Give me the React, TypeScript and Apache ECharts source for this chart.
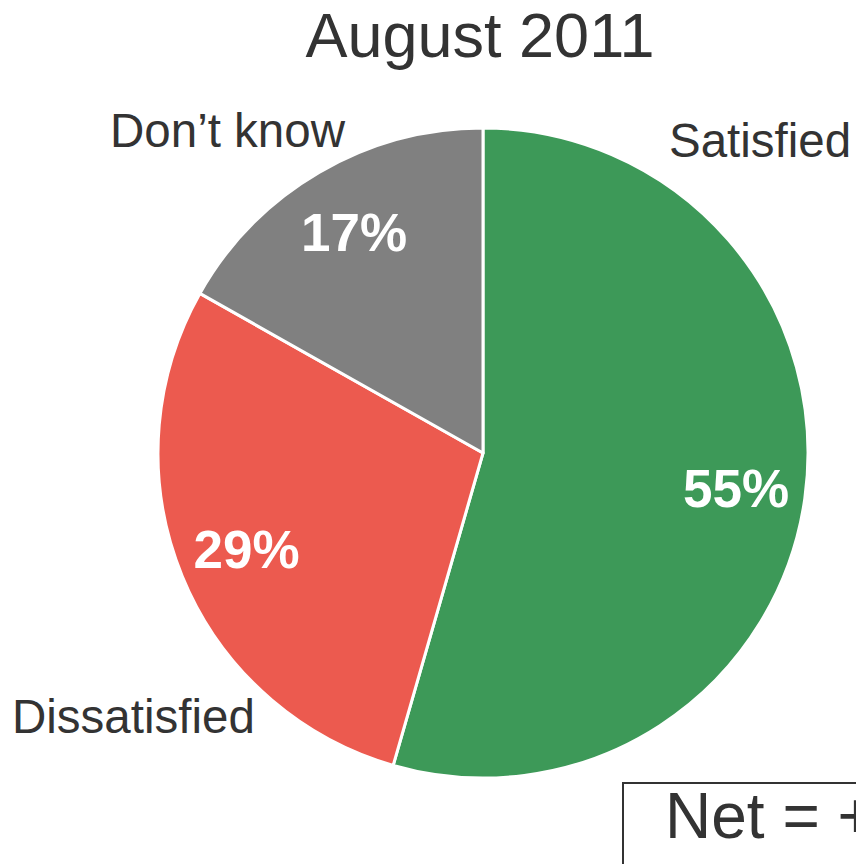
import React, { useEffect, useRef } from "react";
import * as echarts from "echarts";

const categories = ["Satisfied", "Dissatisfied", "Don’t know"];
const values = [55, 29, 17];
const colors = ["#3D9958", "#EC5A4F", "#808080"];
const titleText = "August 2011";
const netText = "Net = +26";

const FONT = "'Liberation Sans', Arial, Helvetica, sans-serif";

export default function App() {
  const ref = useRef<HTMLDivElement>(null);
  useEffect(() => {
    document.body.style.margin = "0";
    const chart = echarts.init(ref.current!, undefined, { renderer: "svg" });
    const data = categories.map((name, i) => ({
      name,
      value: values[i],
      itemStyle: { color: colors[i] },
    }));
    chart.setOption({
      animation: false,
      backgroundColor: "#ffffff",
      series: [
        {
          type: "pie",
          center: [483, 453],
          radius: [0, 325],
          startAngle: 90,
          clockwise: true,
          silent: true,
          label: { show: false },
          labelLine: { show: false },
          itemStyle: { borderColor: "#ffffff", borderWidth: 3 },
          data,
        },
        {
          type: "pie",
          center: [483, 453],
          radius: [180, 325],
          startAngle: 90,
          clockwise: true,
          silent: true,
          labelLine: { show: false },
          itemStyle: { color: "rgba(0,0,0,0)", borderWidth: 0 },
          label: {
            show: true,
            position: "inside",
            formatter: "{c}%",
            color: "#ffffff",
            fontFamily: FONT,
            fontWeight: "bold",
            fontSize: 53,
            padding: [16, 0, 0, 0],
          },
          data: categories.map((name, i) => ({ name, value: values[i] })),
        },
      ],
      graphic: [
        {
          type: "text",
          x: 480,
          y: 35,
          style: {
            text: titleText,
            fontFamily: FONT,
            fontSize: 63,
            fill: "#333333",
            align: "center",
            verticalAlign: "middle",
          },
        },
        {
          type: "text",
          x: 669,
          y: 140,
          style: {
            text: categories[0],
            fontFamily: FONT,
            fontSize: 47.5,
            fill: "#333333",
            align: "left",
            verticalAlign: "middle",
          },
        },
        {
          type: "text",
          x: 12,
          y: 716,
          style: {
            text: categories[1],
            fontFamily: FONT,
            fontSize: 47.5,
            fill: "#333333",
            align: "left",
            verticalAlign: "middle",
          },
        },
        {
          type: "text",
          x: 110,
          y: 130,
          style: {
            text: categories[2],
            fontFamily: FONT,
            fontSize: 47.5,
            fill: "#333333",
            align: "left",
            verticalAlign: "middle",
          },
        },
        {
          type: "rect",
          shape: { x: 623, y: 783, width: 300, height: 200 },
          style: { fill: "#ffffff", stroke: "#333333", lineWidth: 2 },
        },
        {
          type: "text",
          x: 665,
          y: 816,
          style: {
            text: netText,
            fontFamily: FONT,
            fontSize: 64,
            fill: "#333333",
            align: "left",
            verticalAlign: "middle",
          },
        },
      ],
    });
    return () => chart.dispose();
  }, []);
  return <div ref={ref} style={{ width: 856, height: 864 }} />;
}
